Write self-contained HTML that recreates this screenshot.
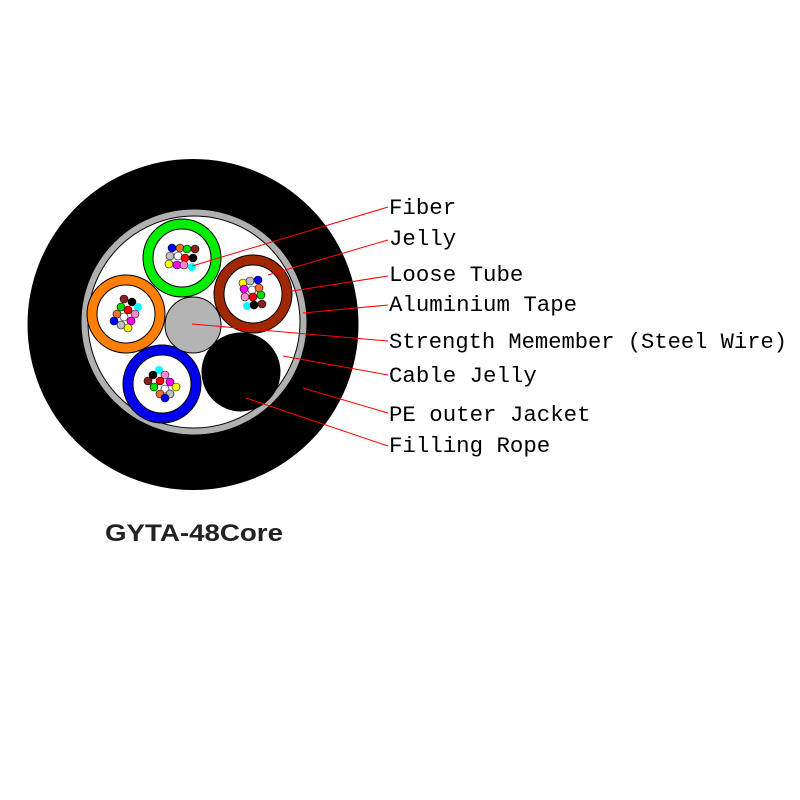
<!DOCTYPE html>
<html><head><meta charset="utf-8"><style>
html,body{margin:0;padding:0;background:#fff;}
svg{display:block;}
.l{font-family:"Liberation Mono",monospace;font-size:22.4px;fill:#000;}
</style></head><body>
<svg width="800" height="800" viewBox="0 0 800 800" xmlns="http://www.w3.org/2000/svg">
<rect width="800" height="800" fill="#fff"/>
<circle cx="193" cy="324.5" r="165.5" fill="#000"/>
<circle cx="194" cy="322" r="113" fill="#b0b0b0" stroke="#000" stroke-width="1"/>
<circle cx="194" cy="322" r="106" fill="#fff" stroke="#000" stroke-width="1"/>
<g stroke="#000" stroke-width="1">
<circle cx="182" cy="258" r="34" fill="#fff" stroke="#00ee00" stroke-width="10"/>
<circle cx="182" cy="258" r="39" fill="none"/><circle cx="182" cy="258" r="29" fill="none"/>
<circle cx="253" cy="294" r="34" fill="#fff" stroke="#a02800" stroke-width="10"/>
<circle cx="253" cy="294" r="39" fill="none"/><circle cx="253" cy="294" r="29" fill="none"/>
<circle cx="126" cy="314" r="34" fill="#fff" stroke="#ff8000" stroke-width="10"/>
<circle cx="126" cy="314" r="39" fill="none"/><circle cx="126" cy="314" r="29" fill="none"/>
<circle cx="162" cy="384" r="34" fill="#fff" stroke="#0000ee" stroke-width="10"/>
<circle cx="162" cy="384" r="39" fill="none"/><circle cx="162" cy="384" r="29" fill="none"/>
<circle cx="193" cy="325" r="28" fill="#b4b4b4"/>
<circle cx="241" cy="372" r="39" fill="#000"/>
</g>
<g stroke="#000" stroke-width="0.6">
<circle cx="172" cy="248" r="4" fill="#0000ff"/><circle cx="180" cy="248" r="4" fill="#f07030"/><circle cx="187" cy="249" r="4" fill="#00dd00"/><circle cx="195" cy="249" r="4" fill="#8b2020"/>
<circle cx="170" cy="256" r="4" fill="#c0c0c0"/><circle cx="178" cy="256" r="4" fill="#fff"/><circle cx="185" cy="258" r="4" fill="#ff0000"/><circle cx="193" cy="258" r="4" fill="#000"/>
<circle cx="169" cy="264" r="4" fill="#ffff00"/><circle cx="177" cy="265" r="4" fill="#ff00ff"/><circle cx="184" cy="265" r="4" fill="#ff88cc"/><circle cx="192" cy="267" r="4" fill="#00ffff" stroke="none"/>

<circle cx="243" cy="283" r="4" fill="#ffff00"/><circle cx="250" cy="281" r="4" fill="#c0c0c0"/><circle cx="258" cy="280" r="4" fill="#0000ff"/>
<circle cx="244" cy="289" r="4" fill="#ff00ff"/><circle cx="252" cy="290" r="4" fill="#fff"/><circle cx="259" cy="288" r="4" fill="#f07030"/>
<circle cx="245" cy="297" r="4" fill="#ff88cc"/><circle cx="253" cy="297" r="4" fill="#ff0000"/><circle cx="261" cy="295" r="4" fill="#00dd00"/>
<circle cx="247" cy="306" r="4" fill="#00ffff" stroke="none"/><circle cx="254" cy="305" r="4" fill="#000"/><circle cx="262" cy="304" r="4" fill="#8b2020"/>

<circle cx="124" cy="299" r="4" fill="#8b2020"/><circle cx="132" cy="302" r="4" fill="#000"/><circle cx="138" cy="307" r="4" fill="#00ffff" stroke="none"/>
<circle cx="121" cy="307" r="4" fill="#00dd00"/><circle cx="128" cy="310" r="4" fill="#ff0000"/><circle cx="117" cy="314" r="4" fill="#f07030"/>
<circle cx="124" cy="317" r="4" fill="#fff"/><circle cx="135" cy="314" r="4" fill="#ff88cc"/><circle cx="114" cy="321" r="4" fill="#0000ff"/>
<circle cx="121" cy="325" r="4" fill="#c0c0c0"/><circle cx="131" cy="321" r="4" fill="#ff00ff"/><circle cx="128" cy="328" r="4" fill="#ffff00"/>

<circle cx="159" cy="370" r="4" fill="#00ffff" stroke="none"/><circle cx="153" cy="375" r="4" fill="#000"/><circle cx="165" cy="375" r="4" fill="#ff88cc"/>
<circle cx="148" cy="381" r="4" fill="#8b2020"/><circle cx="160" cy="381" r="4" fill="#ff0000"/><circle cx="170" cy="382" r="4" fill="#ff00ff"/>
<circle cx="154" cy="387" r="4" fill="#00dd00"/><circle cx="165" cy="389" r="4" fill="#fff"/><circle cx="176" cy="387" r="4" fill="#ffff00"/>
<circle cx="160" cy="394" r="4" fill="#f07030"/><circle cx="170" cy="394" r="4" fill="#c0c0c0"/><circle cx="165" cy="398" r="4" fill="#0000ff"/>
</g>
<g stroke="#ff0000" stroke-width="1">
<line x1="192" y1="266" x2="388" y2="207"/>
<line x1="268" y1="275" x2="388" y2="240"/>
<line x1="286" y1="292" x2="388" y2="276"/>
<line x1="303" y1="313" x2="388" y2="305"/>
<line x1="192" y1="324" x2="388" y2="341"/>
<line x1="283" y1="356" x2="388" y2="375"/>
<line x1="303" y1="388" x2="388" y2="413"/>
<line x1="246" y1="398" x2="388" y2="446"/>
</g>
<text class="l" x="389" y="214">Fiber</text>
<text class="l" x="389" y="245">Jelly</text>
<text class="l" x="389" y="281">Loose Tube</text>
<text class="l" x="389" y="311">Aluminium Tape</text>
<text class="l" x="389" y="348" textLength="398" lengthAdjust="spacingAndGlyphs">Strength Memember (Steel Wire)</text>
<text class="l" x="389" y="382">Cable Jelly</text>
<text class="l" x="389" y="421">PE outer Jacket</text>
<text class="l" x="389" y="452">Filling Rope</text>
<text x="105" y="541" font-family="Liberation Sans, sans-serif" font-weight="bold" font-size="24" fill="#222" textLength="178" lengthAdjust="spacingAndGlyphs">GYTA-48Core</text>
</svg>
</body></html>
